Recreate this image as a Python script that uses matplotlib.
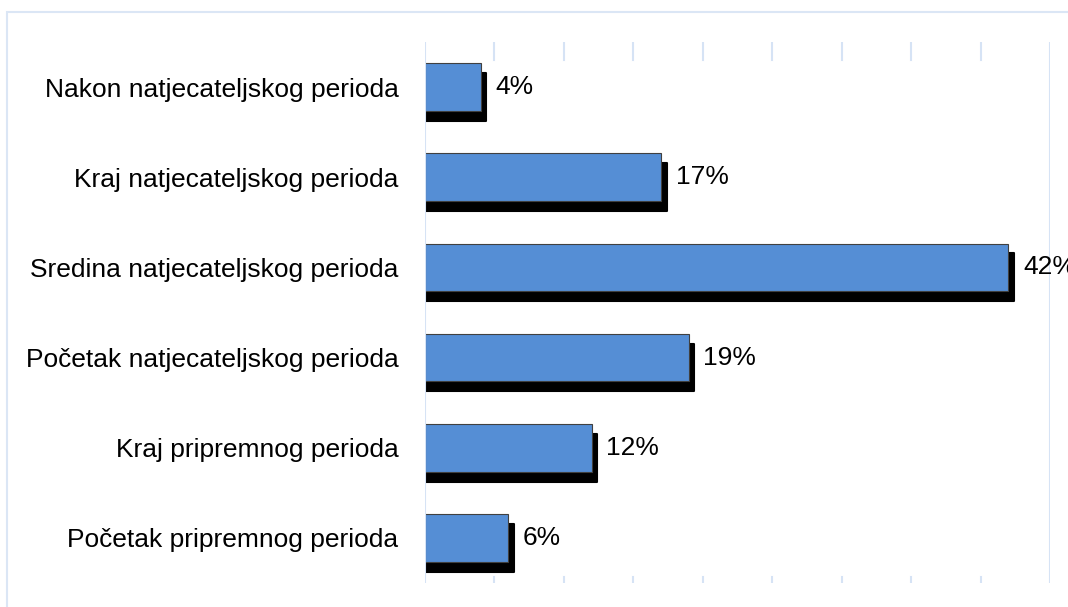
import matplotlib.pyplot as plt

plt.rcParams['font.family'] = ['Liberation Sans', 'DejaVu Sans']

# Categories listed bottom to top
periods = ['Početak pripremnog perioda',
           'Kraj pripremnog perioda',
           'Početak natjecateljskog perioda',
           'Sredina natjecateljskog perioda',
           'Kraj natjecateljskog perioda',
           'Nakon natjecateljskog perioda']
shares = [6, 12, 19, 42, 17, 4]
value_labels = ['6%', '12%', '19%', '42%', '17%', '4%']

bar_color = '#558ed5'
grid_color = '#d6e3f5'

fig = plt.figure(figsize=(10.68, 6.07), dpi=100)
ax = fig.add_axes([425 / 1068, 1 - 583 / 607, 625 / 1068, 541 / 607])

y = list(range(len(periods)))
h = 0.53

# drop shadow: same bars nudged right and down
ax.barh([yi - 0.11 for yi in y], [v + 0.4 for v in shares], height=h,
        color='black', edgecolor='black', linewidth=1.5, joinstyle='round',
        zorder=2)
ax.barh(y, shares, height=h, color=bar_color,
        edgecolor='#404040', linewidth=0.8, zorder=3)

for yi, v, txt in zip(y, shares, value_labels):
    ax.annotate(txt, (v, yi), xytext=(10.5, 0), textcoords='offset points',
                va='center', ha='left', fontsize=19, color='black', zorder=4,
                annotation_clip=False)

ax.set_xlim(0, 45)
ax.set_ylim(-0.5, len(periods) - 0.5)
ax.set_yticks(y)
ax.set_yticklabels(periods, fontsize=19)
ax.tick_params(axis='y', length=0, pad=19)
ax.set_xticks([])

for s in ax.spines.values():
    s.set_visible(False)

# short grid stubs at top and bottom, full lines at the ends
for gx in range(5, 45, 5):
    ax.axvline(gx, ymin=0.967, ymax=1.0, color=grid_color, lw=1.5, zorder=1)
    ax.axvline(gx, ymin=0.0, ymax=0.012, color=grid_color, lw=1.5, zorder=1)
ax.axvline(0, color=grid_color, lw=1.5, zorder=4)
ax.axvline(45, color=grid_color, lw=1.5, zorder=1)

# outer chart border
fig.add_artist(plt.Rectangle((7 / 1068, -0.5), 2, 1.5 - 12 / 607,
                             transform=fig.transFigure, fill=False,
                             edgecolor='#dbe6f5', lw=1.5))

fig.savefig('out.png', dpi=100)
